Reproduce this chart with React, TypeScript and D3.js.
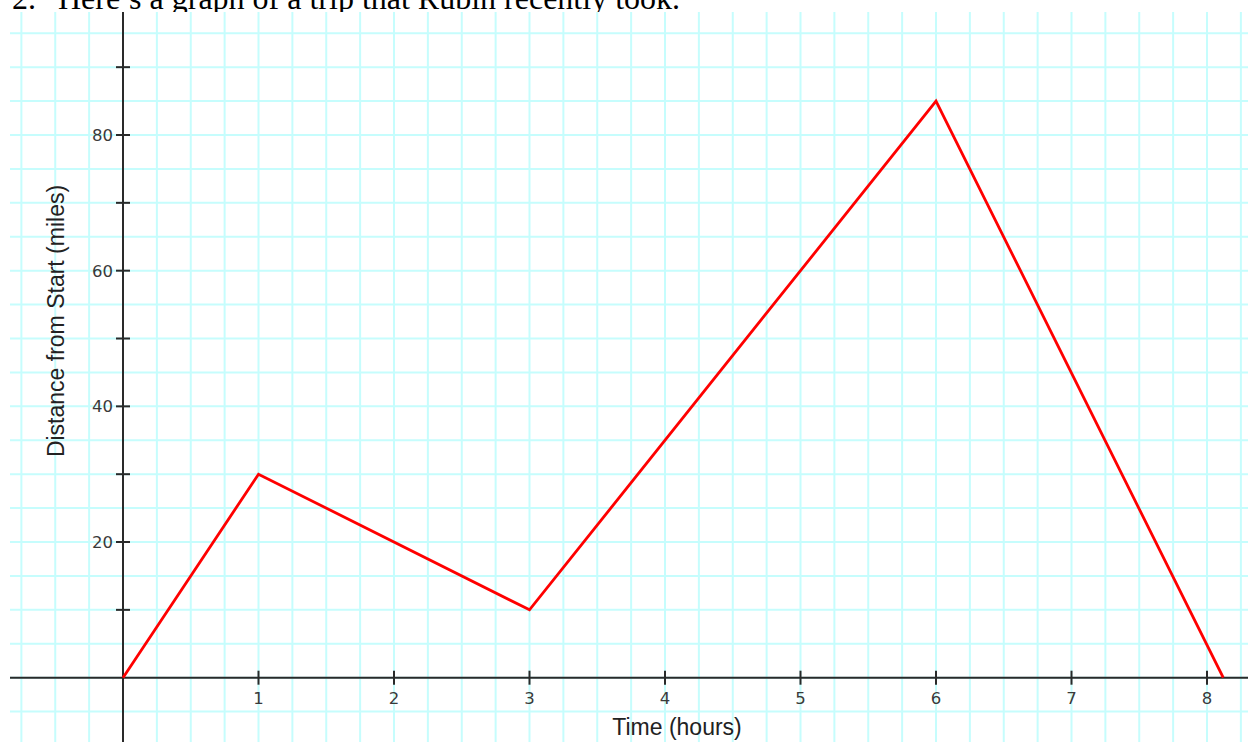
import React from "react";
import * as d3 from "d3";

const W = 1248;
const H = 742;

// Data
const timeHours = [0, 1, 3, 6, 8.12];
const distanceMiles = [0, 30, 10, 85, 0];
const xTickValues = [1, 2, 3, 4, 5, 6, 7, 8];
const xTickLabels = ["1", "2", "3", "4", "5", "6", "7", "8"];
const yTickValues = [10, 20, 30, 40, 50, 60, 70, 80, 90];
const yLabelValues = [20, 40, 60, 80];
const titleNumber = "2.";
const titleText = "Here\u2019s a graph of a trip that Rubin recently took.";
const xTitle = "Time (hours)";
const yTitle = "Distance from Start (miles)";

export default function App() {
  const plotLeft = 10;
  const plotTop = 12;
  const plotRight = W;
  const plotBottom = H;

  const x = d3.scaleLinear().domain([0, 8]).range([123, 1207]);
  const y = d3.scaleLinear().domain([0, 80]).range([677.7, 135]);

  const xMin = x.invert(plotLeft);
  const xMax = x.invert(plotRight);
  const yMin = y.invert(plotBottom);
  const yMax = y.invert(plotTop);

  const vGrid: number[] = [];
  for (let k = Math.ceil(xMin / 0.25); k * 0.25 <= xMax; k++) vGrid.push(k * 0.25);
  const hGrid: number[] = [];
  for (let k = Math.ceil(yMin / 5); k * 5 <= yMax; k++) hGrid.push(k * 5);

  const pts: [number, number][] = timeHours.map((t, i) => [t, distanceMiles[i]]);
  const line = d3
    .line<[number, number]>()
    .x((d) => x(d[0]))
    .y((d) => y(d[1]));

  const x0 = x(0);
  const y0 = y(0);

  return (
    <svg
      width={W}
      height={H}
      style={{ position: "absolute", left: 0, top: 0, display: "block", background: "#fff" }}
    >
      <rect x={0} y={0} width={W} height={H} fill="#fff" />
      <text
        y={9}
        fontFamily="'Liberation Serif', 'Times New Roman', serif"
        fontSize={32}
        fill="#000"
      >
        <tspan x={12}>{titleNumber}</tspan>
        <tspan x={58}>{titleText}</tspan>
      </text>
      <rect x={plotLeft} y={plotTop} width={plotRight - plotLeft} height={plotBottom - plotTop} fill="#fff" />
      <g stroke="#c6fdfd" strokeWidth={2}>
        {vGrid.map((v) => (
          <line key={"v" + v} x1={x(v)} x2={x(v)} y1={plotTop} y2={plotBottom} />
        ))}
        {hGrid.map((v) => (
          <line key={"h" + v} x1={plotLeft} x2={plotRight} y1={y(v)} y2={y(v)} />
        ))}
      </g>
      {/* axes */}
      <g stroke="#2a2a2a" strokeWidth={2}>
        <line x1={plotLeft} x2={plotRight} y1={y0} y2={y0} />
        <line x1={x0} x2={x0} y1={plotTop} y2={plotBottom} />
        {xTickValues.map((v) => (
          <line key={"xt" + v} x1={x(v)} x2={x(v)} y1={y0 - 7} y2={y0 + 7} />
        ))}
        {yTickValues.map((v) => (
          <line key={"yt" + v} x1={x0 - 7} x2={x0 + 7} y1={y(v)} y2={y(v)} />
        ))}
      </g>
      <g fontFamily="'DejaVu Sans', Verdana, sans-serif" fontSize={16.5} fill="#3a3a3a">
        {xTickValues.map((v, i) => (
          <text key={"xl" + v} x={x(v)} y={704} textAnchor="middle">
            {xTickLabels[i]}
          </text>
        ))}
        {yLabelValues.map((v) => (
          <text key={"yl" + v} x={113} y={y(v)} dy="0.36em" textAnchor="end">
            {String(v)}
          </text>
        ))}
      </g>
      <g fontFamily="'Liberation Sans', Arial, Helvetica, sans-serif" fontSize={23} fill="#222">
        <text x={677} y={735} textAnchor="middle">
          {xTitle}
        </text>
        <text transform={`translate(63.5, 321) rotate(-90)`} textAnchor="middle">
          {yTitle}
        </text>
      </g>
      <path d={line(pts) || ""} fill="none" stroke="#ff0000" strokeWidth={2.8} strokeLinejoin="miter" />
    </svg>
  );
}
